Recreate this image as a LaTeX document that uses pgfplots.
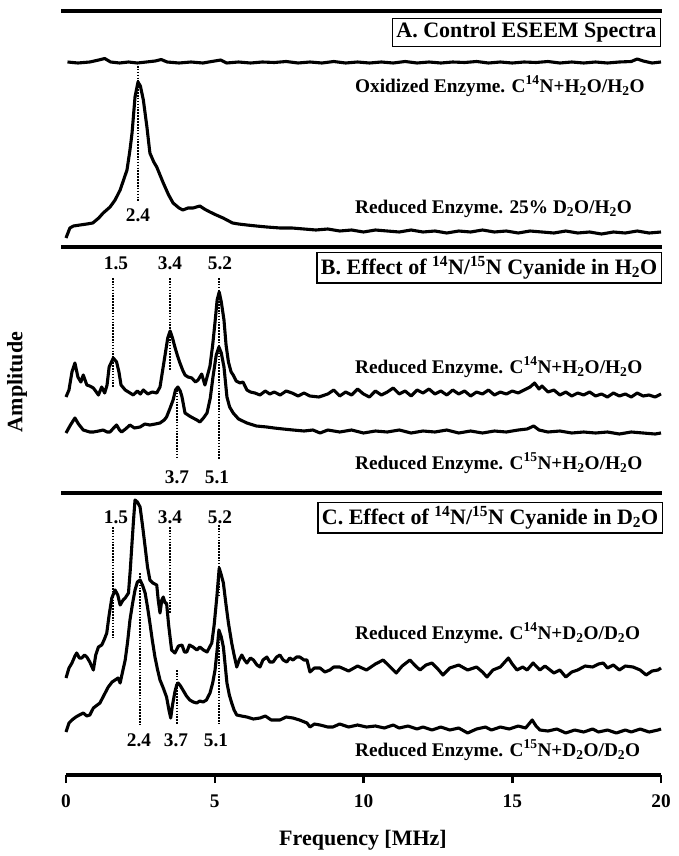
\documentclass[border=0pt]{standalone}
\usepackage{fontspec}
\setmainfont{Liberation Serif}
\usepackage{pgfplots}
\pgfplotsset{compat=1.18}

\newcommand\lab{\fontsize{19.3}{21}\selectfont\bfseries}
\newcommand\ttl{\fontsize{22}{24}\selectfont\bfseries}
\tikzset{pk/.style={black, line width=1.9pt, dash pattern=on 1.6pt off 1.3pt},
  sep/.style={black, line width=3.8pt},
  spec/.style={black, line width=3.1pt, line join=round}}

\begin{document}
\begin{tikzpicture}
\useasboundingbox (0pt,0pt) rectangle (678pt,-856pt);
\begin{axis}[
  at={(66pt,-775pt)}, anchor=south west,
  scale only axis, width=595pt, height=764pt,
  xmin=0, xmax=20, ymin=0, ymax=764,
  axis x line=bottom, axis y line=none,
  x axis line style={line width=3.5pt,-},
  xtick={0,5,10,15,20}, ytick=\empty,
  tick align=outside, major tick length=8pt,
  every tick/.style={black, line width=2.5pt},
  /pgf/number format/assume math mode=true,
  xticklabel style={font=\lab, yshift=-8pt},
  clip=false,
]
% panel A: oxidized control (flat)
\addplot[spec] coordinates {
 (0.05,713) (0.4,712) (0.8,713) (1.1,715) (1.3,716.5) (1.5,713) (1.8,712) (2.1,713)
 (2.4,712) (2.7,713) (3.0,714) (3.2,715.5) (3.4,713) (3.8,712) (4.2,713) (4.6,712)
 (5.0,714) (5.2,715) (5.4,712) (5.8,713) (6.2,712) (6.6,713) (7.0,712.5) (7.4,713.5)
 (7.8,712) (8.2,713) (8.6,712) (9.0,713.5) (9.4,712) (9.8,713) (10.2,712) (10.6,713)
 (11.0,712) (11.4,713.5) (11.8,712) (12.2,713) (12.6,712) (13.0,713) (13.4,712.5)
 (13.8,713.5) (14.2,712) (14.6,713) (15.0,712) (15.4,713) (15.8,712.5) (16.2,713.5)
 (16.6,712) (17.0,713) (17.4,712) (17.8,713) (18.2,712) (18.6,713) (19.0,713.5)
 (19.2,716) (19.4,714) (19.7,712) (20,713)
};
% panel A: reduced, 25% D2O
\addplot[spec] coordinates {
 (0.0,537) (0.13,547) (0.25,549) (0.47,550) (0.7,551) (0.9,552) (1.1,557) (1.25,562)
 (1.48,568) (1.65,575) (1.82,585) (2.05,605) (2.15,625) (2.22,642) (2.32,678) (2.42,693)
 (2.5,689) (2.6,675) (2.72,648) (2.82,622) (2.95,613) (3.05,608) (3.27,592) (3.45,580)
 (3.6,572) (3.8,567) (3.93,565) (4.1,567) (4.27,567) (4.5,569) (4.65,566) (4.84,563)
 (5.05,560) (5.28,557) (5.6,552) (5.8,551) (6.08,550) (6.4,549) (6.75,548) (7.2,547)
 (7.6,547) (8.0,546) (8.4,545) (8.8,546) (9.2,544) (9.6,545) (10,543) (10.4,545)
 (10.8,544) (11.2,543) (11.6,545) (12,543) (12.4,544) (12.8,542) (13.2,544) (13.6,543)
 (14,545) (14.4,543) (14.8,544) (15.2,542) (15.6,544) (16,543) (16.4,542) (16.8,544)
 (17.2,542) (17.6,543) (18,541) (18.4,543) (18.8,542) (19.2,544) (19.6,542) (20,543)
};
% panel B: C14N in H2O
\addplot[spec] coordinates {
 (0.0,378) (0.1,385) (0.2,403) (0.3,412) (0.4,398) (0.5,393) (0.58,400) (0.7,390)
 (0.8,389) (0.92,387) (1.02,383) (1.09,380) (1.2,388) (1.3,382) (1.38,390) (1.45,408)
 (1.59,417) (1.7,413) (1.78,403) (1.85,390) (1.99,385) (2.1,383) (2.26,380) (2.4,384)
 (2.5,381) (2.6,385) (2.75,381) (2.9,383) (3.05,382) (3.16,388) (3.25,405) (3.33,420)
 (3.42,437) (3.5,444) (3.58,437) (3.66,428) (3.75,419) (3.83,412) (3.92,405) (4.0,400)
 (4.1,398) (4.23,397) (4.35,393) (4.44,395) (4.56,401) (4.67,390) (4.76,400) (4.84,409)
 (4.93,430) (5.01,453) (5.08,475) (5.15,483) (5.22,473) (5.31,455) (5.38,430) (5.46,413)
 (5.55,403) (5.62,400) (5.72,394) (5.85,392) (5.95,393) (6.08,385) (6.2,383) (6.35,382)
 (6.52,380) (6.7,384) (6.85,381) (7.0,383) (7.2,380) (7.4,384) (7.6,382) (7.8,379)
 (8.0,382) (8.2,379) (8.5,378) (8.8,381) (9.0,385) (9.2,379) (9.4,383) (9.6,380)
 (9.8,386) (10.0,381) (10.2,378) (10.4,384) (10.6,380) (10.8,383) (11.0,387) (11.2,381)
 (11.4,384) (11.6,379) (11.8,385) (12.0,382) (12.2,386) (12.4,381) (12.6,384) (12.8,380)
 (13.0,385) (13.2,381) (13.4,384) (13.6,379) (13.8,383) (14.0,381) (14.2,385) (14.4,380)
 (14.6,383) (14.8,381) (15.0,384) (15.2,382) (15.4,385) (15.6,388) (15.75,392) (15.9,386)
 (16.0,389) (16.2,383) (16.4,385) (16.6,380) (16.8,383) (17.0,379) (17.2,382) (17.4,380)
 (17.6,383) (17.8,379) (18.0,381) (18.2,378) (18.4,382) (18.6,379) (18.8,381) (19.0,378)
 (19.2,382) (19.4,379) (19.6,380) (19.8,378) (20,381)
};
% panel B: C15N in H2O
\addplot[spec] coordinates {
 (0.0,342) (0.15,350) (0.3,357) (0.42,351) (0.58,345) (0.8,343) (0.92,343) (1.1,344)
 (1.25,345) (1.38,343) (1.48,343) (1.6,347) (1.7,350) (1.8,345) (1.87,343) (2.0,346)
 (2.15,350) (2.3,347) (2.49,348) (2.65,351) (2.82,350) (3.0,351) (3.16,352) (3.3,355)
 (3.38,358) (3.5,367) (3.6,375) (3.68,385) (3.76,388) (3.84,384) (3.9,378) (4.0,362)
 (4.15,359) (4.27,357) (4.4,355) (4.5,353) (4.62,357) (4.74,362) (4.85,377) (4.94,398)
 (5.05,420) (5.14,428) (5.22,422) (5.31,408) (5.41,378) (5.5,368) (5.62,362) (5.8,356)
 (6.08,352) (6.4,349) (6.75,348) (7.0,347) (7.3,346) (7.63,345) (8.0,344) (8.3,345)
 (8.54,342) (8.8,345) (9.2,343) (9.6,345) (10.0,342) (10.4,344) (10.8,343) (11.2,345)
 (11.6,342) (12.0,344) (12.4,343) (12.8,345) (13.2,342) (13.6,344) (14.0,342) (14.4,344)
 (14.8,343) (15.2,345) (15.5,346) (15.72,349) (15.9,345) (16.2,343) (16.6,344) (17.0,342)
 (17.4,343) (17.8,342) (18.2,343) (18.6,341) (19.0,343) (19.4,342) (19.8,341) (20,342)
};
% panel C: C14N in D2O
\addplot[spec] coordinates {
 (0.0,97) (0.1,107) (0.2,112) (0.3,119) (0.36,122) (0.45,117) (0.53,117) (0.62,120)
 (0.7,118) (0.8,113) (0.92,105) (1.0,120) (1.09,128) (1.2,130) (1.28,135) (1.37,142)
 (1.45,160) (1.54,177) (1.65,185) (1.74,180) (1.82,170) (1.92,175) (1.99,177) (2.1,182)
 (2.16,205) (2.21,228) (2.27,255) (2.32,275) (2.4,273) (2.49,268) (2.57,250) (2.66,228)
 (2.74,208) (2.82,195) (2.92,192) (3.05,190) (3.1,175) (3.16,162) (3.22,175) (3.27,178)
 (3.33,172) (3.38,172) (3.45,150) (3.55,125) (3.66,122) (3.78,129) (3.9,130) (3.98,123)
 (4.06,123) (4.15,130) (4.27,128) (4.4,125) (4.5,128) (4.62,125) (4.74,123) (4.83,128)
 (4.9,132) (4.98,150) (5.07,178) (5.15,207) (5.22,200) (5.29,192) (5.38,170) (5.46,152)
 (5.57,132) (5.65,120) (5.74,108) (5.82,115) (5.91,120) (6.0,115) (6.08,112) (6.2,117)
 (6.3,115) (6.42,110) (6.52,108) (6.62,115) (6.75,118) (6.85,113) (6.96,113) (7.08,118)
 (7.19,120) (7.3,115) (7.42,113) (7.52,117) (7.63,115) (7.75,118) (7.86,118) (8.0,115)
 (8.1,115) (8.2,103) (8.35,107) (8.54,107) (8.7,103) (8.87,105) (9.0,108) (9.2,108)
 (9.5,104) (9.8,109) (10.1,105) (10.4,111) (10.66,115) (10.9,108) (11.1,102) (11.3,109)
 (11.56,115) (11.75,109) (11.9,105) (12.1,110) (12.3,112) (12.5,106) (12.67,100) (12.9,107)
 (13.2,110) (13.5,105) (13.8,108) (14.0,103) (14.15,98) (14.35,105) (14.6,108) (14.75,113)
 (14.87,117) (15.0,111) (15.16,105) (15.35,108) (15.5,105) (15.7,112) (15.93,105) (16.1,109)
 (16.4,102) (16.6,105) (16.8,98) (17.0,103) (17.2,105) (17.45,109) (17.7,108) (17.9,111)
 (18.06,112) (18.2,107) (18.4,110) (18.6,105) (18.8,109) (19.06,108) (19.3,105) (19.5,100)
 (19.7,104) (19.9,105) (20,107)
};
% panel C: C15N in D2O
\addplot[spec] coordinates {
 (0.0,43) (0.1,52) (0.2,55) (0.33,58) (0.45,60) (0.58,62) (0.7,59) (0.8,60) (0.92,67)
 (1.05,70) (1.14,72) (1.28,80) (1.42,88) (1.55,93) (1.65,95) (1.75,97) (1.82,92) (1.9,103)
 (1.99,115) (2.07,133) (2.15,155) (2.24,172) (2.32,185) (2.4,193) (2.49,195) (2.57,190)
 (2.66,182) (2.74,168) (2.82,152) (2.9,135) (2.99,118) (3.08,105) (3.16,95) (3.27,87)
 (3.38,78) (3.46,65) (3.52,57) (3.58,70) (3.66,83) (3.72,90) (3.77,92) (3.85,89) (3.93,85)
 (4.05,79) (4.16,75) (4.28,73) (4.39,72) (4.5,74) (4.61,73) (4.72,75) (4.84,82) (4.93,92)
 (5.01,105) (5.08,125) (5.14,145) (5.22,138) (5.29,128) (5.35,110) (5.41,92) (5.49,80)
 (5.57,72) (5.65,65) (5.74,60) (5.9,59) (6.08,58) (6.3,56) (6.52,57) (6.7,59) (6.9,55)
 (7.19,55) (7.4,58) (7.63,57) (7.85,55) (8.1,52) (8.2,48) (8.35,51) (8.54,50) (8.8,48)
 (8.97,48) (9.2,51) (9.5,48) (9.8,50) (10.1,48) (10.4,49) (10.7,47) (11.0,50) (11.2,47)
 (11.5,49) (11.8,46) (12.0,48) (12.3,45) (12.6,48) (12.9,45) (13.2,47) (13.5,42) (13.8,46)
 (14.1,48) (14.3,45) (14.6,48) (14.9,46) (15.2,49) (15.45,47) (15.67,55) (15.8,49) (15.93,45)
 (16.2,44) (16.5,46) (16.8,42) (17.1,45) (17.4,43) (17.7,46) (17.9,43) (18.2,45) (18.5,42)
 (18.8,45) (19.0,43) (19.3,46) (19.6,43) (19.9,45) (20,46)
};
% peak markers
\draw[pk] (axis cs:2.42,709) -- (axis cs:2.42,573);
\draw[pk] (axis cs:1.58,497) -- (axis cs:1.58,387);
\draw[pk] (axis cs:3.50,497) -- (axis cs:3.50,405);
\draw[pk] (axis cs:5.15,497) -- (axis cs:5.15,425);
\draw[pk] (axis cs:3.73,388) -- (axis cs:3.73,318);
\draw[pk] (axis cs:5.15,428) -- (axis cs:5.15,315);
\draw[pk] (axis cs:1.58,248) -- (axis cs:1.58,137);
\draw[pk] (axis cs:3.50,248) -- (axis cs:3.50,162);
\draw[pk] (axis cs:5.15,250) -- (axis cs:5.15,180);
\draw[pk] (axis cs:2.49,202) -- (axis cs:2.49,50);
\draw[pk] (axis cs:3.73,105) -- (axis cs:3.73,50);
\draw[pk] (axis cs:5.15,145) -- (axis cs:5.15,50);
\end{axis}

% panel rules
\draw[sep] (61pt,-11pt) -- (662pt,-11pt);
\draw[sep] (61pt,-247pt) -- (662pt,-247pt);
\draw[sep] (61pt,-493pt) -- (662pt,-493pt);

% panel titles
\node[draw, line width=1.4pt, inner sep=4pt, anchor=north east, font=\ttl]
  at (661pt,-18pt) {A. Control ESEEM Spectra};
\node[draw, line width=1.4pt, inner sep=4pt, anchor=north east, font=\ttl]
  at (662pt,-252pt) {B. Effect of \textsuperscript{14}N/\textsuperscript{15}N Cyanide in H\textsubscript{2}O};
\node[draw, line width=1.4pt, inner sep=4pt, anchor=north east, font=\ttl]
  at (663pt,-502pt) {C. Effect of \textsuperscript{14}N/\textsuperscript{15}N Cyanide in D\textsubscript{2}O};

% sample labels
\begin{scope}[every node/.style={anchor=west, font=\lab, inner sep=0pt}]
\node at (355pt,-86pt)  {Oxidized Enzyme. C\textsuperscript{14}N+H\textsubscript{2}O/H\textsubscript{2}O};
\node at (355pt,-209pt) {Reduced Enzyme. 25\% D\textsubscript{2}O/H\textsubscript{2}O};
\node at (355pt,-367pt) {Reduced Enzyme. C\textsuperscript{14}N+H\textsubscript{2}O/H\textsubscript{2}O};
\node at (355pt,-463pt) {Reduced Enzyme. C\textsuperscript{15}N+H\textsubscript{2}O/H\textsubscript{2}O};
\node at (355pt,-633pt) {Reduced Enzyme. C\textsuperscript{14}N+D\textsubscript{2}O/D\textsubscript{2}O};
\node at (355pt,-750pt) {Reduced Enzyme. C\textsuperscript{15}N+D\textsubscript{2}O/D\textsubscript{2}O};
\end{scope}

% peak values
\begin{scope}[every node/.style={font=\lab, inner sep=0pt}]
\node at (138pt,-215pt) {2.4};
\node at (116pt,-263pt) {1.5};
\node at (170pt,-263pt) {3.4};
\node at (220pt,-263pt) {5.2};
\node at (177pt,-477pt) {3.7};
\node at (217pt,-477pt) {5.1};
\node at (116pt,-517pt) {1.5};
\node at (170pt,-517pt) {3.4};
\node at (220pt,-517pt) {5.2};
\node at (139pt,-740pt) {2.4};
\node at (176pt,-740pt) {3.7};
\node at (216pt,-740pt) {5.1};
\end{scope}

% axis titles
\node[font=\ttl] at (363pt,-840pt) {Frequency [MHz]};
\node[font=\ttl, rotate=90] at (17pt,-382pt) {Amplitude};
\end{tikzpicture}
\end{document}
